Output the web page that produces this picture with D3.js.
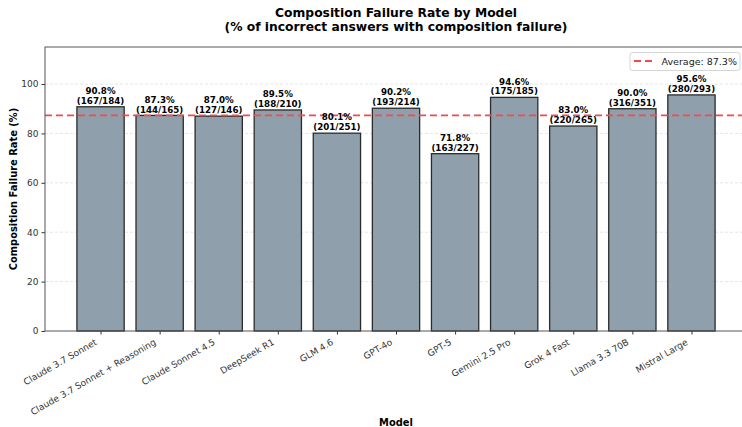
<!DOCTYPE html>
<html><head><meta charset="utf-8">
<script src="https://cdn.jsdelivr.net/npm/d3@7"></script>
<style>body{margin:0;background:#fff}svg{display:block;font-family:"DejaVu Sans",sans-serif}</style>
</head><body>
<script>
const models = ["Claude 3.7 Sonnet","Claude 3.7 Sonnet + Reasoning","Claude Sonnet 4.5","DeepSeek R1","GLM 4.6","GPT-4o","GPT-5","Gemini 2.5 Pro","Grok 4 Fast","Llama 3.3 70B","Mistral Large"];
const rates = [90.8,87.3,87.0,89.5,80.1,90.2,71.8,94.6,83.0,90.0,95.6];
const failures = [167,144,127,188,201,193,163,175,220,316,280];
const incorrect = [184,165,146,210,251,214,227,185,265,351,293];
const average = 87.3;
const yTicks = [0,20,40,60,80,100];

const W=742,H=427;
const L=45,R=747,T=47,B=331;
const svg=d3.select("body").append("svg").attr("width",W).attr("height",H);

const n=models.length;
const x=d3.scaleLinear().domain([-0.94,n-1+0.94]).range([L,R]);
const y=d3.scaleLinear().domain([0,115]).range([B,T]);
const bw=x(0.8)-x(0);

svg.append("g").selectAll("line").data(yTicks.filter(d=>d>0)).join("line")
 .attr("x1",L).attr("x2",R).attr("y1",d=>y(d)).attr("y2",d=>y(d))
 .attr("stroke","#b0b0b0").attr("stroke-opacity",0.4).attr("stroke-width",0.8).attr("stroke-dasharray","3,2");

svg.append("g").selectAll("rect").data(rates).join("rect")
 .attr("x",(d,i)=>x(i)-bw/2).attr("width",bw)
 .attr("y",d=>y(d)).attr("height",d=>B-y(d))
 .attr("fill","#8fa0ac").attr("stroke","#2b2b2b").attr("stroke-width",1.3);

svg.append("line").attr("x1",L).attr("x2",R).attr("y1",y(average)).attr("y2",y(average))
 .attr("stroke","#f44a4a").attr("stroke-width",1.8).attr("stroke-dasharray","7,4");

const lab=svg.append("g").attr("font-size",8.7).attr("font-weight","bold").attr("text-anchor","middle").attr("fill","#000");
rates.forEach((d,i)=>{
  lab.append("text").attr("x",x(i)).attr("y",y(d)-12.8).text(d.toFixed(1)+"%");
  lab.append("text").attr("x",x(i)).attr("y",y(d)-2.9).text("("+failures[i]+"/"+incorrect[i]+")");
});

const ya=svg.append("g").attr("transform",`translate(${L},0)`)
 .call(d3.axisLeft(y).tickValues(yTicks).tickSize(3.5).tickPadding(3));
ya.select(".domain").remove();
ya.selectAll("text").attr("font-size",9).attr("fill","#333").attr("font-family","DejaVu Sans");
ya.selectAll("line").attr("stroke","#333");

const xa=svg.append("g").attr("transform",`translate(0,${B})`)
 .call(d3.axisBottom(x).tickValues(d3.range(n)).tickFormat(i=>models[i]).tickSize(3.5).tickPadding(3));
xa.select(".domain").remove();
xa.selectAll("line").attr("stroke","#333");
xa.selectAll("text").attr("font-size",9).attr("fill","#333").attr("font-family","DejaVu Sans")
 .attr("text-anchor","end").attr("y",0).attr("dy",0)
 .attr("transform","translate(-3.4,13) rotate(-30)");

svg.append("rect").attr("x",L).attr("y",T).attr("width",R-L).attr("height",B-T)
 .attr("fill","none").attr("stroke","#555").attr("stroke-width",1);

const cx=(L+R)/2;
svg.append("text").attr("x",cx).attr("y",17).attr("text-anchor","middle").attr("font-size",12.3).attr("font-weight","bold").text("Composition Failure Rate by Model");
svg.append("text").attr("x",cx).attr("y",31).attr("text-anchor","middle").attr("font-size",12.3).attr("font-weight","bold").text("(% of incorrect answers with composition failure)");
svg.append("text").attr("x",cx).attr("y",426).attr("text-anchor","middle").attr("font-size",9.9).attr("font-weight","bold").text("Model");
svg.append("text").attr("transform",`translate(17,${(T+B)/2}) rotate(-90)`).attr("text-anchor","middle").attr("font-size",9.9).attr("font-weight","bold").text("Composition Failure Rate (%)");

const lg=svg.append("g");
lg.append("rect").attr("x",630).attr("y",52.5).attr("width",110).attr("height",18).attr("rx",2.5)
 .attr("fill","#fff").attr("fill-opacity",0.85).attr("stroke","#ccc").attr("stroke-width",0.8);
lg.append("line").attr("x1",634).attr("x2",653).attr("y1",61).attr("y2",61)
 .attr("stroke","#f44a4a").attr("stroke-width",1.8).attr("stroke-dasharray","7,4");
lg.append("text").attr("x",661.5).attr("y",64.8).attr("font-size",9.5).attr("fill","#222").text("Average: "+average.toFixed(1)+"%");
</script>
</body></html>
